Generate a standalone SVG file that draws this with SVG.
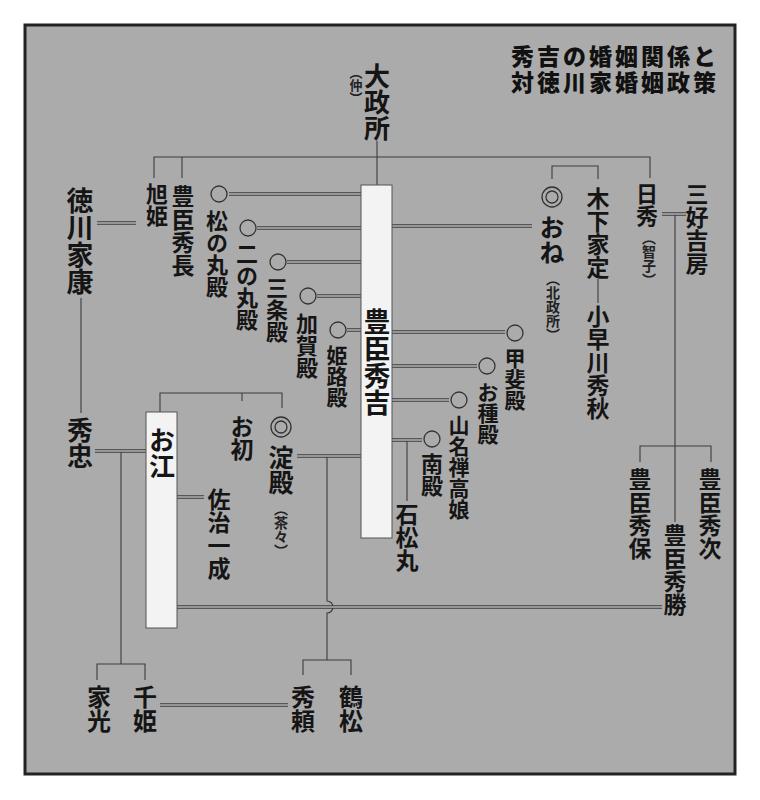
<svg xmlns="http://www.w3.org/2000/svg" width="760" height="800" viewBox="0 0 760 800">
<style>
.v{writing-mode:vertical-rl;font-family:"Noto Sans CJK JP","Noto Sans CJK SC",sans-serif;font-weight:700;fill:#151515}
.s{writing-mode:vertical-rl;font-family:"Noto Sans CJK JP","Noto Sans CJK SC",sans-serif;font-weight:700;fill:#222}
.t{font-family:"Noto Sans CJK JP","Noto Sans CJK SC",sans-serif;font-weight:900;fill:#111;font-size:23px;letter-spacing:3px}
.ln{fill:none;stroke:#3c3c3c;stroke-width:1.1}
.dbo{fill:none;stroke:#3c3c3c;stroke-width:3.6}
.dbi{fill:none;stroke:#b4b4b4;stroke-width:1.3}
.c{fill:none;stroke:#333;stroke-width:1.3}
.box{fill:#f3f3f3;stroke:#555;stroke-width:1}
</style>
<rect x="0" y="0" width="760" height="800" fill="#ffffff"/>
<rect x="25" y="25" width="710" height="749" fill="#ababab" stroke="#222" stroke-width="3"/>

<g id="title">
<text class="t" x="719" y="65" text-anchor="end">秀吉の婚姻関係と</text>
<text class="t" x="719" y="91" text-anchor="end">対徳川家婚姻政策</text>
</g>

<g id="connectors">
<path class="ln" d="M154,178 V157 H650 V178 M182,157 V178 M377,141 V185"/>
<path class="ln" d="M552,179 V166 H598 V179 M598,279 V303"/>
<path class="ln" d="M675,214 V522 M640,462 V446 H711 V462"/>
<path class="ln" d="M407,440 V501"/>
<path class="ln" d="M81,298 V413 M121,451 V664 M97,680 V664 H145 V680"/>
<path class="ln" d="M160,412 V393 H282 V408 M242,393 V401"/>
<path class="ln" d="M327,456 V601 A6,6 0 0 1 327,613 V660 M303,675 V660 H351 V675"/>
<g id="double-lines">
<path class="dbo" d="M97,223 H136 M229,194 H361 M257,228 H361 M287,262 H361 M317,296 H361 M347,330 H361 M392,226 H532 M392,332 H505 M392,366 H477 M392,400 H449 M392,440 H422 M297,456 H361 M95,451 H146 M177,497 H204 M177,607 H662 M160,705 H288 M662,214 H686"/>
<path class="dbi" d="M97,223 H136 M229,194 H361 M257,228 H361 M287,262 H361 M317,296 H361 M347,330 H361 M392,226 H532 M392,332 H505 M392,366 H477 M392,400 H449 M392,440 H422 M297,456 H361 M95,451 H146 M177,497 H204 M177,607 H662 M160,705 H288 M662,214 H686"/>
</g>
</g>

<g id="oomandokoro"><text class="v" x="377" y="63" font-size="26">大政所</text><text class="s" x="356" y="66" font-size="13">（仲）</text></g>
<g id="hideyoshi"><rect class="box" x="361" y="185" width="31" height="353"/><text class="v" x="377" y="308" font-size="27">豊臣秀吉</text></g>
<g id="ieyasu"><text class="v" x="80" y="187" font-size="27">徳川家康</text></g>
<g id="asahihime"><text class="v" x="157" y="183" font-size="22">旭姫</text></g>
<g id="hidenaga"><text class="v" x="183" y="185" font-size="23">豊臣秀長</text></g>
<g id="matsunomaru"><circle class="c" cx="219" cy="194" r="8"/><text class="v" x="217" y="210" font-size="22">松の丸殿</text></g>
<g id="ninomaru"><circle class="c" cx="248" cy="228" r="8"/><text class="v" x="247" y="243" font-size="22">二の丸殿</text></g>
<g id="sanjo"><circle class="c" cx="278" cy="262" r="8"/><text class="v" x="277" y="277" font-size="22">三条殿</text></g>
<g id="kaga"><circle class="c" cx="308" cy="296" r="8"/><text class="v" x="307" y="313" font-size="22">加賀殿</text></g>
<g id="himeji"><circle class="c" cx="338" cy="330" r="8"/><text class="v" x="337" y="345" font-size="21">姫路殿</text></g>
<g id="one"><circle class="c" cx="552" cy="197" r="10"/><circle class="c" cx="552" cy="197" r="6"/><text class="v" x="552" y="215" font-size="25">おね</text><text class="s" x="553" y="272" font-size="14">（北政所）</text></g>
<g id="iesada"><text class="v" x="598" y="187" font-size="23">木下家定</text></g>
<g id="kobayakawa"><text class="v" x="598" y="305" font-size="23">小早川秀秋</text></g>
<g id="nisshu"><text class="v" x="647" y="183" font-size="22">日秀</text><text class="s" x="649" y="231" font-size="14">（智子）</text></g>
<g id="yoshifusa"><text class="v" x="697" y="183" font-size="23">三好吉房</text></g>
<g id="kai"><circle class="c" cx="515" cy="333" r="8"/><text class="v" x="515" y="348" font-size="21">甲斐殿</text></g>
<g id="otane"><circle class="c" cx="487" cy="366" r="8"/><text class="v" x="488" y="382" font-size="21">お種殿</text></g>
<g id="yamana"><circle class="c" cx="459" cy="400" r="8"/><text class="v" x="459" y="415" font-size="21">山名禅高娘</text></g>
<g id="minami"><circle class="c" cx="432" cy="439" r="8"/><text class="v" x="432" y="453" font-size="22">南殿</text></g>
<g id="ishimatsumaru"><text class="v" x="407" y="503" font-size="23">石松丸</text></g>
<g id="hidetada"><text class="v" x="80" y="417" font-size="26">秀忠</text></g>
<g id="go"><rect class="box" x="146" y="412" width="31" height="216"/><text class="v" x="162" y="427" font-size="26">お江</text></g>
<g id="ohatsu"><text class="v" x="242" y="415" font-size="23">お初</text></g>
<g id="yodo"><circle class="c" cx="281" cy="427" r="10"/><circle class="c" cx="281" cy="427" r="6"/><text class="v" x="281" y="445" font-size="25">淀殿</text><text class="s" x="281" y="502" font-size="14">（茶々）</text></g>
<g id="saji"><text class="v" x="219" y="488" font-size="23">佐治一成</text></g>
<g id="hideyasu"><text class="v" x="640" y="468" font-size="23">豊臣秀保</text></g>
<g id="hidetsugu"><text class="v" x="710" y="468" font-size="23">豊臣秀次</text></g>
<g id="hidekatsu"><text class="v" x="675" y="524" font-size="23">豊臣秀勝</text></g>
<g id="iemitsu"><text class="v" x="99" y="685" font-size="24">家光</text></g>
<g id="senhime"><text class="v" x="145" y="685" font-size="24">千姫</text></g>
<g id="hideyori"><text class="v" x="303" y="685" font-size="24">秀頼</text></g>
<g id="tsurumatsu"><text class="v" x="351" y="685" font-size="24">鶴松</text></g>
</svg>
